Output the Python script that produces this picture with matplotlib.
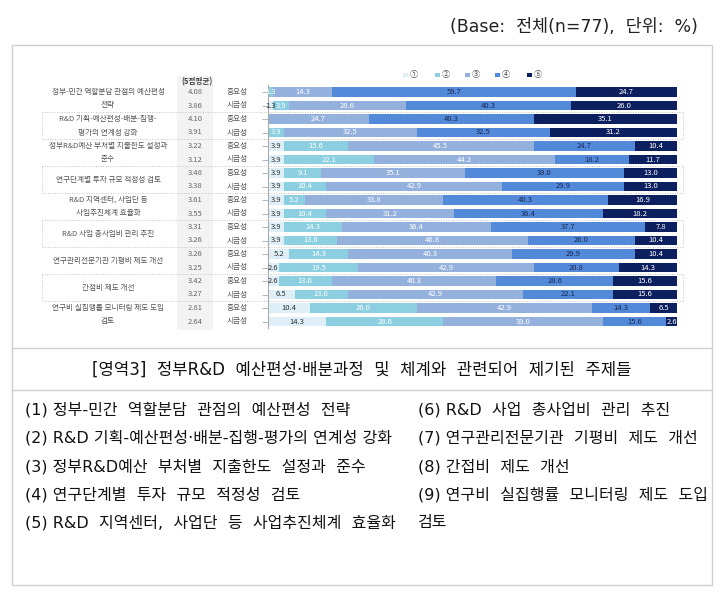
import matplotlib.pyplot as plt
import matplotlib.transforms as mtransforms
from matplotlib.patches import Rectangle
from matplotlib.lines import Line2D
import numpy as np

plt.rcParams['font.family'] = ['Noto Sans CJK KR', 'DejaVu Sans']
MIXED = ['DejaVu Sans', 'Noto Sans CJK KR']

W, H = 724, 595

# --- data ---
ITEM_LINES = [
    ["정부-민간 역할분담 관점의 예산편성", "전략"],
    ["R&D 기획-예산편성-배분-집행-", "평가의 연계성 강화"],
    ["정부R&D예산 부처별 지출한도 설정과", "준수"],
    ["연구단계별 투자 규모 적정성 검토"],
    ["R&D 지역센터, 사업단 등", "사업추진체계 효율화"],
    ["R&D 사업 총사업비 관리 추진"],
    ["연구관리전문기관 기평비 제도 개선"],
    ["간접비 제도 개선"],
    ["연구비 실집행률 모니터링 제도 도입", "검토"],
]
KINDS = ["중요성", "시급성"]
MEANS = [4.08, 3.86, 4.10, 3.91, 3.22, 3.12, 3.48, 3.38, 3.61,
         3.55, 3.31, 3.26, 3.26, 3.25, 3.42, 3.27, 2.81, 2.64]
S1 = [0, 1.3, 0, 0, 3.9, 3.9, 3.9, 3.9, 3.9, 3.9, 3.9, 3.9, 5.2, 2.6, 2.6, 6.5, 10.4, 14.3]
S2 = [1.3, 3.9, 0, 3.9, 15.6, 22.1, 9.1, 10.4, 5.2, 10.4, 14.3, 13.0, 14.3, 19.5, 13.0, 13.0, 26.0, 28.6]
S3 = [14.3, 28.6, 24.7, 32.5, 45.5, 44.2, 35.1, 42.9, 33.8, 31.2, 36.4, 46.8, 40.3, 42.9, 40.3, 42.9, 42.9, 39.0]
S4 = [59.7, 40.3, 40.3, 32.5, 24.7, 18.2, 39.0, 29.9, 40.3, 36.4, 37.7, 26.0, 29.9, 20.8, 28.6, 22.1, 14.3, 15.6]
S5 = [24.7, 26.0, 35.1, 31.2, 10.4, 11.7, 13.0, 13.0, 16.9, 18.2, 7.8, 10.4, 10.4, 14.3, 15.6, 15.6, 6.5, 2.6]
SERIES = [S1, S2, S3, S4, S5]
LEGEND = ["①", "②", "③", "④", "⑤"]

HEADER = "(Base:  전체(n=77),  단위:  %)"
TITLE = "[영역3]  정부R&D  예산편성·배분과정  및  체계와  관련되어  제기된  주제들"
LEFT_LIST = [
    "(1) 정부-민간  역할분담  관점의  예산편성  전략",
    "(2) R&D 기획-예산편성·배분-집행-평가의 연계성 강화",
    "(3) 정부R&D예산  부처별  지출한도  설정과  준수",
    "(4) 연구단계별  투자  규모  적정성  검토",
    "(5) R&D  지역센터,  사업단  등  사업추진체계  효율화",
]
RIGHT_LIST = [
    "(6) R&D  사업  총사업비  관리  추진",
    "(7) 연구관리전문기관  기평비  제도  개선",
    "(8) 간접비  제도  개선",
    "(9) 연구비  실집행률  모니터링  제도  도입",
    "검토",
]

colors = ["#dfeff8", "#8ccfe0", "#94b1dd", "#5289d9", "#0c1f5e"]
label_colors = ["#333333", "white", "white", "#1b2a55", "white"]


def px(x):
    return x / W


def py(y):
    return 1 - y / H


fig = plt.figure(figsize=(W / 100, H / 100), dpi=100)

# outer frame and separators
fig.add_artist(Rectangle((px(12), py(585)), px(712) - px(12), py(45) - py(585),
                         fill=False, edgecolor="#d0d0d0", lw=1, transform=fig.transFigure))
for yy in (348, 390):
    fig.add_artist(Line2D([px(12), px(712)], [py(yy), py(yy)], color="#d0d0d0", lw=1,
                          transform=fig.transFigure))

# mean column background
fig.add_artist(Rectangle((px(177), py(330)), px(213) - px(177), py(76) - py(330),
                         facecolor="#f3f3f3", edgecolor="none", transform=fig.transFigure, zorder=0))

ax = fig.add_axes([px(268), py(328.25), px(677) - px(268), 243 / H])
n = len(MEANS)
rows = np.arange(n)
ax.set_ylim(n - 0.5, -0.5)
ax.set_xlim(0, 100.1)

left = np.zeros(n)
for k, s in enumerate(SERIES):
    vals = np.array(s)
    ax.barh(rows, vals, left=left, height=0.74, color=colors[k], zorder=2)
    for r in rows:
        if vals[r] > 0:
            ax.text(left[r] + vals[r] / 2, r, f"{vals[r]:.1f}", ha="center", va="center",
                    fontsize=5.5, color=label_colors[k], zorder=3)
    left += vals

for side in ("top", "right", "bottom"):
    ax.spines[side].set_visible(False)
ax.spines["left"].set_color("#aaaaaa")
ax.set_xticks([])
ax.set_yticks(rows)
ax.set_yticklabels([])
ax.tick_params(axis="y", length=4, color="#aaaaaa", width=0.6)
ax.patch.set_visible(False)

trans = mtransforms.blended_transform_factory(fig.transFigure, ax.transData)

# dotted boxes around alternating groups
for g in (1, 3, 5, 7):
    fig.add_artist(Rectangle((px(42), 2 * g - 0.5), px(683) - px(42), 2,
                             fill=False, edgecolor="#c4c4c4", lw=0.7,
                             linestyle=(0, (1, 1.5)), transform=trans, zorder=1))

# row labels, means, kinds
for i, lines in enumerate(ITEM_LINES):
    if len(lines) == 2:
        for j, t in enumerate(lines):
            fig.text(px(108), 2 * i + j, t, transform=trans, ha="center", va="center",
                     fontsize=5.5, color="#555555")
    else:
        fig.text(px(108), 2 * i + 0.5, lines[0], transform=trans, ha="center", va="center",
                 fontsize=5.5, color="#555555")
for r in rows:
    fig.text(px(195), r, f"{MEANS[r]:.2f}", transform=trans, ha="center", va="center",
             fontsize=5.5, color="#666666")
    fig.text(px(237), r, KINDS[r % 2], transform=trans, ha="center", va="center",
             fontsize=5.5, color="#555555")
fig.text(px(197), py(82), "(5점평균)", ha="center", va="center", fontsize=5.5,
         color="#444444", fontweight="bold")

# legend
leg_x = [403, 435, 465, 495, 527]
for k, lx in enumerate(leg_x):
    fig.add_artist(Rectangle((px(lx), py(77)), px(5), 4 / H, facecolor=colors[k],
                             edgecolor="none", transform=fig.transFigure))
    fig.text(px(lx + 7), py(75), LEGEND[k], ha="left", va="center", fontsize=6, color="#555555")

# header, title and topic list
fig.text(px(698), py(27), HEADER, ha="right", va="center", fontsize=12.5, color="#222222",
         family=MIXED)
fig.text(px(362), py(370), TITLE, ha="center", va="center", fontsize=12, color="#111111",
         family=MIXED)
list_y = [410, 438, 467, 495, 523]
for t, yy in zip(LEFT_LIST, list_y):
    fig.text(px(25), py(yy), t, ha="left", va="center", fontsize=11.5, color="#111111",
             family=MIXED)
for t, yy in zip(RIGHT_LIST, list_y):
    fig.text(px(418), py(yy), t, ha="left", va="center", fontsize=11.5, color="#111111",
             family=MIXED)

fig.savefig("out.png", dpi=100)
